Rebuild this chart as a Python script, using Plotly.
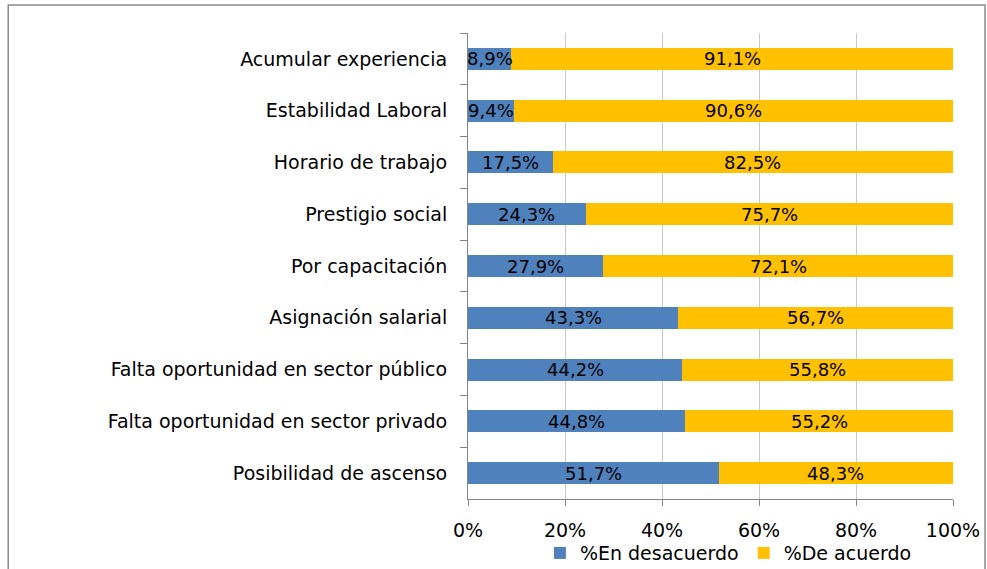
import plotly.graph_objects as go

categories = ["Acumular experiencia", "Estabilidad Laboral", "Horario de trabajo",
              "Prestigio social", "Por capacitación", "Asignación salarial",
              "Falta oportunidad en sector público", "Falta oportunidad en sector privado",
              "Posibilidad de ascenso"]
desacuerdo = [8.9, 9.4, 17.5, 24.3, 27.9, 43.3, 44.2, 44.8, 51.7]
acuerdo = [91.1, 90.6, 82.5, 75.7, 72.1, 56.7, 55.8, 55.2, 48.3]
series_names = ["%En desacuerdo", "%De acuerdo"]
x_ticks = [0, 20, 40, 60, 80, 100]
x_tick_labels = ["0%", "20%", "40%", "60%", "80%", "100%"]

FONT = "DejaVu Sans"

def fmt(v):
    return f"{v:.1f}".replace(".", ",") + "%"

fig = go.Figure()
fig.add_trace(go.Bar(y=categories, x=desacuerdo, orientation="h", name=series_names[0],
                     marker=dict(color="#4F81BD", line=dict(width=0))))
fig.add_trace(go.Bar(y=categories, x=acuerdo, orientation="h", name=series_names[1],
                     marker=dict(color="#FFC000", line=dict(width=0))))

annotations = []
for c, d, a in zip(categories, desacuerdo, acuerdo):
    annotations.append(dict(x=d / 2, y=c, text=fmt(d), showarrow=False, xref="x", yref="y",
                            font=dict(family=FONT, size=18, color="black")))
    annotations.append(dict(x=d + a / 2, y=c, text=fmt(a), showarrow=False, xref="x", yref="y",
                            font=dict(family=FONT, size=18, color="black")))

fig.update_layout(
    barmode="stack",
    width=987, height=569,
    margin=dict(l=468, r=34, t=33, b=70, autoexpand=False),
    paper_bgcolor="white", plot_bgcolor="white",
    bargap=0.575,
    font=dict(family=FONT, size=19, color="black"),
    showlegend=True,
    legend=dict(orientation="h", xref="container", yref="container",
                x=0.738, xanchor="center", y=0.028, yanchor="middle",
                font=dict(family=FONT, size=19), traceorder="normal",
                itemwidth=30, tracegroupgap=0, bgcolor="rgba(0,0,0,0)"),
    annotations=annotations,
    shapes=[dict(type="rect", xref="paper", yref="paper", x0=-0.948, x1=1.066, y0=-0.2, y1=1.060,
                 line=dict(color="#8c8c8c", width=1.5), fillcolor="rgba(0,0,0,0)", layer="below")],
)
fig.update_xaxes(range=[0, 100], tickvals=x_ticks, ticktext=x_tick_labels,
                 showgrid=True, gridcolor="#c8c8c8", gridwidth=1,
                 showline=True, linecolor="#868686", linewidth=1,
                 ticks="outside", ticklen=6, tickcolor="#868686", ticklabelstandoff=8,
                 zeroline=False, tickfont=dict(family=FONT, size=19))
fig.update_yaxes(categoryorder="array", categoryarray=categories, autorange="reversed",
                 showline=True, linecolor="#868686", linewidth=1,
                 ticks="outside", ticklen=7, tickcolor="#868686", tickson="boundaries",
                 ticklabelstandoff=16,
                 showgrid=False, tickfont=dict(family=FONT, size=19))

fig.write_html("out.html", config={"displayModeBar": False},
               post_script="document.body.style.margin='0';document.body.style.overflow='hidden';")
